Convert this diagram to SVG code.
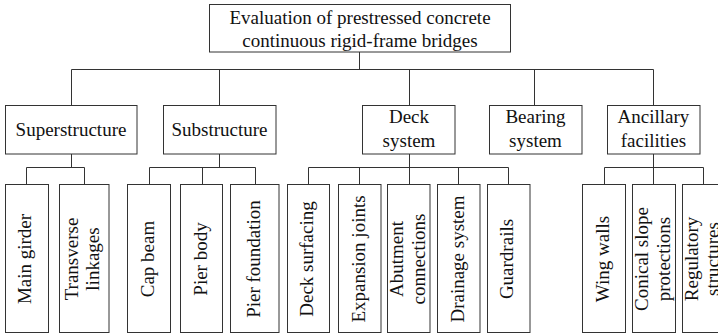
<svg xmlns="http://www.w3.org/2000/svg" width="718" height="335" viewBox="0 0 718 335">
<style>
rect{fill:#fff;stroke:#333;stroke-width:1}
text{font-family:"Liberation Serif","Times New Roman",serif;font-size:19px;fill:#111;text-anchor:middle}
.c{fill:none;stroke:#333;stroke-width:1}
</style>
<rect x="0" y="0" width="718" height="335" style="stroke:none"/>
<g id="connectors" class="c">
<path d="M359.5 52V69.5M71.5 69.5H653.5M71.5 69.5V105M219.5 69.5V105M409.5 69.5V105M534.5 69.5V105M653.5 69.5V105"/>
<path d="M71.5 154V167.5M26.5 167.5H84.5M26.5 167.5V184M84.5 167.5V184"/>
<path d="M219.5 154V167.5M149.5 167.5H255.5M149.5 167.5V184M202.5 167.5V184M255.5 167.5V184"/>
<path d="M409.5 154V167.5M308.5 167.5H508.5M308.5 167.5V184M359.5 167.5V184M409.5 167.5V184M458.5 167.5V184M508.5 167.5V184"/>
<path d="M653.5 154V167.5M604.5 167.5H703.5M604.5 167.5V184M653.5 167.5V184M703.5 167.5V184"/>
</g>
<g id="root"><rect x="209.5" y="4.5" width="301" height="47.5"/><text x="360" y="23.5">Evaluation of prestressed concrete</text><text x="360" y="46.5">continuous rigid-frame bridges</text></g>
<g id="superstructure"><rect x="5.5" y="105.5" width="131.5" height="48.5"/><text x="71" y="136">Superstructure</text></g>
<g id="substructure"><rect x="163.5" y="105.5" width="112.5" height="48.5"/><text x="219.5" y="136">Substructure</text></g>
<g id="deck"><rect x="362.5" y="105.5" width="92.5" height="48.5"/><text x="409" y="123">Deck</text><text x="409" y="146.5">system</text></g>
<g id="bearing"><rect x="489.5" y="105.5" width="92.5" height="48.5"/><text x="535.5" y="123">Bearing</text><text x="535.5" y="146.5">system</text></g>
<g id="ancillary"><rect x="607.5" y="105.5" width="92.5" height="48.5"/><text x="653.5" y="123">Ancillary</text><text x="653.5" y="146.5">facilities</text></g>
<g id="main-girder"><rect x="5.5" y="184.5" width="43" height="148"/><text x="31" y="259" transform="rotate(-90 31 259)">Main girder</text></g>
<g id="transverse"><rect x="59.5" y="184.5" width="49.5" height="148"/><text x="78" y="259" transform="rotate(-90 78 259)">Transverse</text><text x="99" y="259" transform="rotate(-90 99 259)">linkages</text></g>
<g id="cap-beam"><rect x="127.5" y="184.5" width="43" height="148"/><text x="154" y="259" transform="rotate(-90 154 259)">Cap beam</text></g>
<g id="pier-body"><rect x="180.5" y="184.5" width="42" height="148"/><text x="207" y="259" transform="rotate(-90 207 259)">Pier body</text></g>
<g id="pier-foundation"><rect x="230.5" y="184.5" width="48.5" height="148"/><text x="260" y="259" transform="rotate(-90 260 259)">Pier foundation</text></g>
<g id="deck-surfacing"><rect x="287.5" y="184.5" width="42" height="148"/><text x="313" y="259" transform="rotate(-90 313 259)">Deck surfacing</text></g>
<g id="expansion-joints"><rect x="338.5" y="184.5" width="42.5" height="148"/><text x="364.5" y="259" transform="rotate(-90 364.5 259)">Expansion joints</text></g>
<g id="abutment"><rect x="387.5" y="184.5" width="42.5" height="148"/><text x="403" y="259" transform="rotate(-90 403 259)">Abutment</text><text x="424.5" y="259" transform="rotate(-90 424.5 259)">connections</text></g>
<g id="drainage"><rect x="437.5" y="184.5" width="42.5" height="148"/><text x="463.5" y="259" transform="rotate(-90 463.5 259)">Drainage system</text></g>
<g id="guardrails"><rect x="487.5" y="184.5" width="42.5" height="148"/><text x="513" y="259" transform="rotate(-90 513 259)">Guardrails</text></g>
<g id="wing-walls"><rect x="582.5" y="184.5" width="43" height="148"/><text x="608.5" y="259" transform="rotate(-90 608.5 259)">Wing walls</text></g>
<g id="conical"><rect x="632.5" y="184.5" width="43" height="148"/><text x="648" y="259" transform="rotate(-90 648 259)">Conical slope</text><text x="669.5" y="259" transform="rotate(-90 669.5 259)">protections</text></g>
<g id="regulatory"><rect x="682.5" y="184.5" width="43" height="148"/><text x="697.5" y="259" transform="rotate(-90 697.5 259)">Regulatory</text><text x="719" y="259" transform="rotate(-90 719 259)">structures</text></g>
</svg>
